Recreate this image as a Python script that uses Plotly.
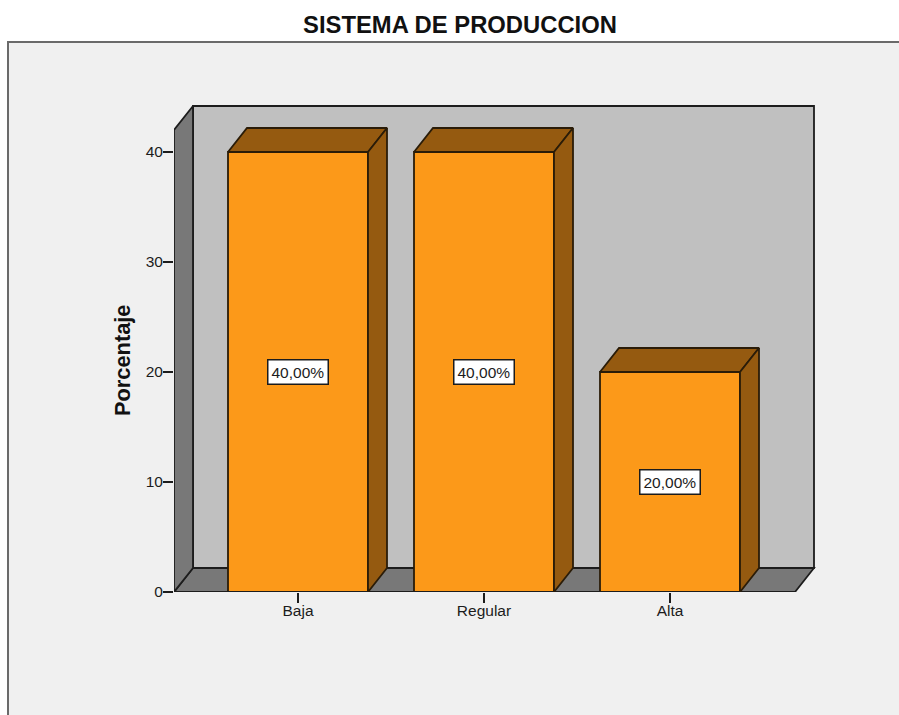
import plotly.graph_objects as go

# --- data
categories = ["Baja", "Regular", "Alta"]
percentages = [40, 40, 20]
labels = ["40,00%", "40,00%", "20,00%"]
y_ticks = [0, 10, 20, 30, 40]
title_text = "SISTEMA DE PRODUCCION"
y_title = "Porcentaje"

# --- style / frame settings
W, H = 899, 715
FONT = "Liberation Sans"
INK = "#1c1c1c"
PANEL, PANEL_EDGE = "#f0f0f0", "#6a6a6a"
WALL, SIDE = "#c0c0c0", "#787878"
FRONT, SHADE = "#fc9919", "#955a10"
BAR_EDGE = "#2a1c08"
LW = 1.8

left_px, right_px, base_px, top_px = 174, 820, 592, 100
first_px, step_px, bar_px = 298, 186, 140
unit_px = 11
x_range = [(left_px - first_px) / step_px, (right_px - first_px) / step_px]
y_range = [0, (base_px - top_px) / unit_px]
bar_w = bar_px / step_px
dx, dy = 19 / step_px, 24 / unit_px          # oblique depth, in axis units
wall_top = 42.0                              # front edge of the side wall
floor_right = (795 - first_px) / step_px     # front edge of the floor
x0 = x_range[0]
positions = list(range(len(categories)))


def poly(pts):
    return "M " + " L ".join(f"{a},{b}" for a, b in pts) + " Z"


shapes = [
    dict(type="rect", xref="paper", yref="paper", x0=8 / W, x1=1.02,
         y0=-0.02, y1=1 - 42 / H, fillcolor=PANEL,
         line=dict(color=PANEL_EDGE, width=2), layer="below"),
    # back wall
    dict(type="path", xref="x", yref="y", layer="below", fillcolor=WALL,
         line=dict(color=INK, width=LW),
         path=poly([(x0 + dx, dy), (x0 + dx, wall_top + dy),
                    (floor_right + dx, wall_top + dy), (floor_right + dx, dy)])),
    # floor
    dict(type="path", xref="x", yref="y", layer="below", fillcolor=SIDE,
         line=dict(color=INK, width=LW),
         path=poly([(x0, 0), (x0 + dx, dy), (floor_right + dx, dy), (floor_right, 0)])),
]

fig = go.Figure()

fig.add_trace(go.Bar(
    x=positions, y=percentages, width=bar_w,
    marker=dict(color=FRONT, line=dict(color=BAR_EDGE, width=LW)),
    hoverinfo="skip", showlegend=False,
))


def face(xs, ys, fill, edge=BAR_EDGE):
    fig.add_trace(go.Scatter(
        x=xs, y=ys, mode="lines", fill="toself", fillcolor=fill,
        line=dict(color=edge, width=LW), cliponaxis=False,
        hoverinfo="skip", showlegend=False,
    ))


# left side wall and the floor's front edge (not clipped at the axis)
face([x0, x0 + dx, x0 + dx, x0, x0], [0, dy, wall_top + dy, wall_top, 0], SIDE, INK)
fig.add_trace(go.Scatter(
    x=[x0, floor_right], y=[0, 0], mode="lines",
    line=dict(color=INK, width=LW), cliponaxis=False,
    hoverinfo="skip", showlegend=False,
))

# oblique faces of every bar
for p, v in zip(positions, percentages):
    a, b = p - bar_w / 2, p + bar_w / 2
    face([a, a + dx, b + dx, b, a], [v, v + dy, v + dy, v, v], SHADE)
    face([b, b + dx, b + dx, b, b], [0, dy, v + dy, v, 0], SHADE)

annotations = [
    dict(x=p, y=v / 2, xref="x", yref="y", text=t, showarrow=False,
         font=dict(family=FONT, size=15.5, color=INK), bgcolor="#ffffff",
         bordercolor=INK, borderwidth=1.5, borderpad=3)
    for p, v, t in zip(positions, percentages, labels)
]
annotations.append(dict(
    x=122 / W, y=1 - 361 / H, xref="paper", yref="paper", text=f"<b>{y_title}</b>",
    textangle=-90, showarrow=False, xanchor="center", yanchor="middle",
    font=dict(family=FONT, size=21.8, color="#111111"),
))

fig.update_layout(
    width=W, height=H, margin=dict(l=0, r=0, t=0, b=0), autosize=False,
    paper_bgcolor="#ffffff", plot_bgcolor="rgba(0,0,0,0)",
    title=dict(text=f"<b>{title_text}</b>", x=460 / W, xanchor="center",
               y=1 - 25 / H, yanchor="middle", xref="paper", yref="paper",
               font=dict(family=FONT, size=23.8, color="#111111")),
    shapes=shapes, annotations=annotations, showlegend=False,
    xaxis=dict(domain=[left_px / W, right_px / W], range=x_range, automargin=False,
               tickmode="array", tickvals=positions, ticktext=categories,
               ticks="outside", ticklen=10, tickwidth=1.5, tickcolor=INK,
               ticklabelstandoff=-6,
               showgrid=False, zeroline=False, showline=False,
               tickfont=dict(family=FONT, size=15.5, color=INK)),
    yaxis=dict(domain=[1 - base_px / H, 1 - top_px / H], range=y_range, automargin=False,
               tickmode="array", tickvals=y_ticks,
               ticks="outside", ticklen=10, tickwidth=1.5, tickcolor=INK,
               ticklabelstandoff=-3,
               showgrid=False, zeroline=False, showline=False,
               tickfont=dict(family=FONT, size=15.5, color=INK)),
)

fig.write_html("out.html", config=dict(displayModeBar=False),
               post_script="document.body.style.margin='0';")
